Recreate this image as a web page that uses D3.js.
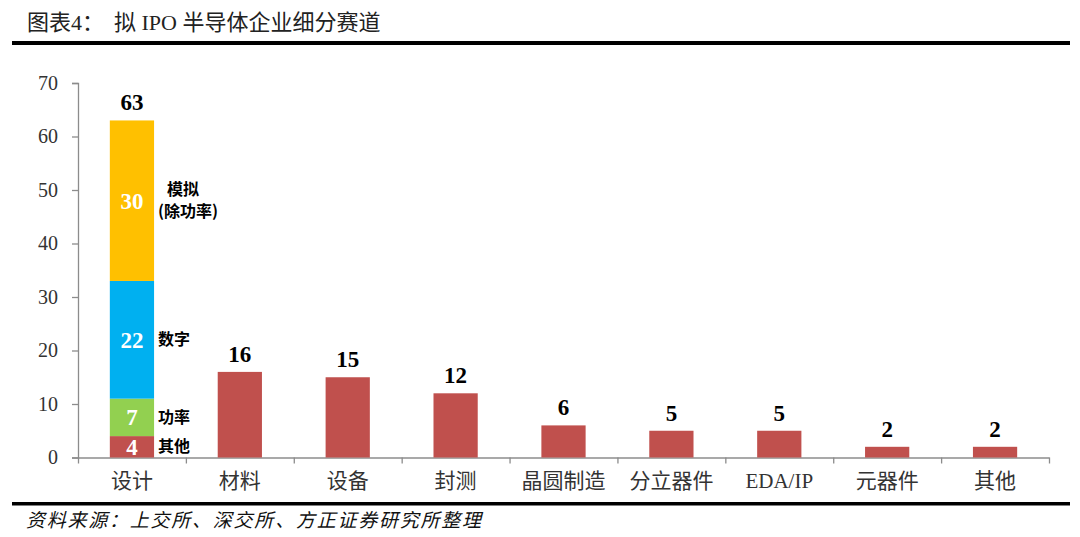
<!DOCTYPE html>
<html>
<head>
<meta charset="utf-8">
<script src="https://cdn.jsdelivr.net/npm/d3@7"></script>
<style>
  html, body { margin: 0; padding: 0; background: #fff; }
  svg { display: block; }
  .serif { font-family: "Liberation Serif", "Noto Sans CJK SC", serif; }
  .hei { font-family: "Noto Sans CJK SC", "DejaVu Sans", sans-serif; }
</style>
</head>
<body>
<div id="chart"></div>
<script>
// categories and totals
const categories = ["设计", "材料", "设备", "封测", "晶圆制造", "分立器件", "EDA/IP", "元器件", "其他"];
const totals = [63, 16, 15, 12, 6, 5, 5, 2, 2];

// breakdown of the first bar (设计), bottom to top
const designParts = ["其他", "功率", "数字", "模拟"];
const designValues = [4, 7, 22, 30];
const designNotes = [["其他"], ["功率"], ["数字"], ["模拟", "(除功率)"]];

const yTicks = [0, 10, 20, 30, 40, 50, 60, 70];

const partColors = ["#C0504D", "#92D050", "#00B0F0", "#FFC000"];
const barColor = "#C0504D";
const axisColor = "#8c8c8c";

const width = 1080, height = 537;
const svg = d3.select("#chart").append("svg")
    .attr("width", width)
    .attr("height", height);

// header
svg.append("text").attr("class", "serif")
    .attr("x", 27).attr("y", 30)
    .attr("font-size", 22).attr("fill", "#222")
    .text("图表4：");
svg.append("text").attr("class", "serif")
    .attr("x", 114).attr("y", 30)
    .attr("font-size", 22).attr("fill", "#222")
    .text("拟 IPO 半导体企业细分赛道");
svg.append("rect").attr("x", 12).attr("y", 41).attr("width", 1058).attr("height", 4).attr("fill", "#000");

// footer
svg.append("rect").attr("x", 12).attr("y", 502).attr("width", 1058).attr("height", 3.5).attr("fill", "#000");
svg.append("text").attr("class", "serif")
    .attr("x", 26).attr("y", 527)
    .attr("font-size", 19).attr("font-style", "italic").attr("fill", "#111")
    .attr("textLength", 455).attr("lengthAdjust", "spacing")
    .text("资料来源：上交所、深交所、方正证券研究所整理");

// scales
const x0 = 78, x1 = 1049, yBottom = 457.5, yTop = 83;
const x = d3.scaleBand().domain(categories).range([x0, x1]).paddingInner(0.59).paddingOuter(0.295);
const xEdges = d3.scaleLinear().domain([0, categories.length]).range([x0, x1]);
const y = d3.scaleLinear().domain([0, 70]).range([yBottom, yTop]);

// y axis
const yAxis = svg.append("g")
    .attr("transform", `translate(${x0},0)`)
    .call(d3.axisLeft(y).tickValues(yTicks).tickSize(6).tickPadding(14));
yAxis.select(".domain").attr("stroke", axisColor).attr("stroke-width", 1.3);
yAxis.selectAll(".tick line").attr("stroke", axisColor).attr("stroke-width", 1.3);
yAxis.selectAll(".tick text")
    .attr("class", "serif")
    .attr("font-size", 20)
    .attr("fill", "#333");

// x axis: ticks sit on the band edges
const xAxisEdges = svg.append("g")
    .attr("transform", `translate(0,${yBottom})`)
    .call(d3.axisBottom(xEdges).tickValues(d3.range(categories.length + 1)).tickSize(6).tickSizeOuter(0).tickFormat(""));
xAxisEdges.select(".domain").attr("stroke", axisColor).attr("stroke-width", 1.3);
xAxisEdges.selectAll(".tick line").attr("stroke", axisColor).attr("stroke-width", 1.3);

const xAxisLabels = svg.append("g")
    .attr("transform", `translate(0,${yBottom})`)
    .call(d3.axisBottom(x).tickSize(0).tickPadding(16));
xAxisLabels.select(".domain").remove();
xAxisLabels.selectAll(".tick text")
    .attr("class", "serif")
    .attr("font-size", 21)
    .attr("fill", "#333");

// stacked parts of the first bar
const stackData = designValues.map((v, i) => ({
    name: designParts[i],
    value: v,
    y0: d3.sum(designValues.slice(0, i)),
    y1: d3.sum(designValues.slice(0, i + 1)),
    color: partColors[i],
    note: designNotes[i]
}));

const first = categories[0];
svg.selectAll("rect.part")
    .data(stackData)
    .enter()
    .append("rect")
    .attr("class", "part")
    .attr("x", x(first))
    .attr("width", x.bandwidth())
    .attr("y", d => y(d.y1))
    .attr("height", d => y(d.y0) - y(d.y1))
    .attr("fill", d => d.color);

svg.selectAll("text.partval")
    .data(stackData)
    .enter()
    .append("text")
    .attr("class", "partval serif")
    .attr("x", x(first) + x.bandwidth() / 2)
    .attr("y", d => y((d.y0 + d.y1) / 2))
    .attr("dy", "0.35em")
    .attr("text-anchor", "middle")
    .attr("font-size", 23)
    .attr("font-weight", "bold")
    .attr("fill", "#fff")
    .text(d => d.value);

// side notes next to the stacked bar
const noteX = x(first) + x.bandwidth() + 4;
stackData.forEach(d => {
    const cy = y((d.y0 + d.y1) / 2);
    const n = d.note.length;
    d.note.forEach((line, j) => {
        svg.append("text")
            .attr("class", "hei")
            .attr("x", n > 1 && j == 0 ? noteX + 9 : noteX)
            .attr("y", cy + (j - (n - 1) / 2) * 22)
            .attr("dy", "0.35em")
            .attr("font-size", 16)
            .attr("font-weight", "bold")
            .attr("fill", "#000")
            .text(line);
    });
});

// other bars
const rest = categories.slice(1).map((c, i) => ({ cat: c, value: totals[i + 1] }));
svg.selectAll("rect.bar")
    .data(rest)
    .enter()
    .append("rect")
    .attr("class", "bar")
    .attr("x", d => x(d.cat))
    .attr("width", x.bandwidth())
    .attr("y", d => y(d.value))
    .attr("height", d => yBottom - y(d.value))
    .attr("fill", barColor);

// totals on top
svg.selectAll("text.total")
    .data(categories.map((c, i) => ({ cat: c, value: totals[i] })))
    .enter()
    .append("text")
    .attr("class", "total serif")
    .attr("x", d => x(d.cat) + x.bandwidth() / 2)
    .attr("y", d => y(d.value) - 10)
    .attr("text-anchor", "middle")
    .attr("font-size", 23)
    .attr("font-weight", "bold")
    .attr("fill", "#000")
    .text(d => d.value);
</script>
</body>
</html>
